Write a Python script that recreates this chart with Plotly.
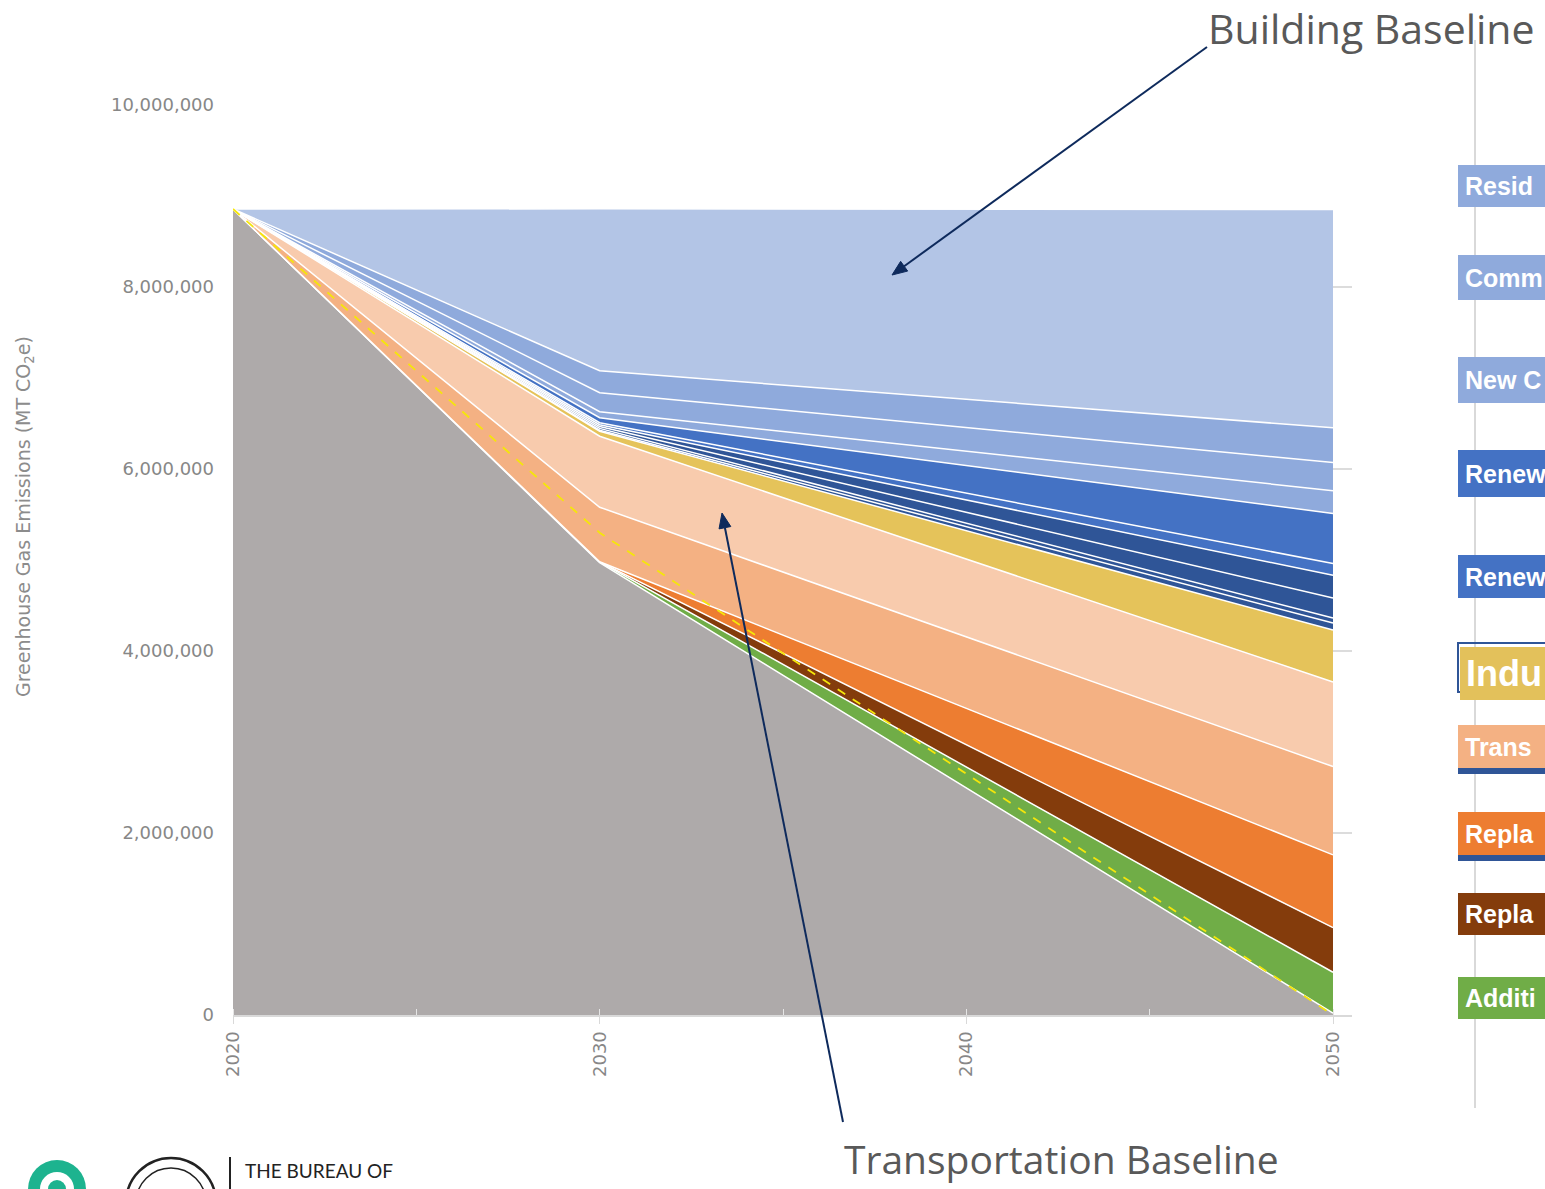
import math
import plotly.graph_objects as go

# ---------------- data ----------------
years = [2020, 2030, 2050]

remaining      = [8.857e6, 4.97e6, 0.02e6]   # grey, remaining emissions
additional     = [0, 0.01e6, 0.45e6]         # green
replace_b      = [0, 0.0, 0.49e6]            # brown
replace_a      = [0, 0.0, 0.80e6]            # orange
transport_a    = [0, 0.60e6, 0.97e6]         # peach
transport_b    = [0, 0.78e6, 0.93e6]         # light peach
industrial     = [0, 0.055e6, 0.57e6]        # yellow
renew_d1       = [0, 0.011e6, 0.077e6]       # dark blue
renew_d2       = [0, 0.02e6, 0.055e6]
renew_d3       = [0, 0.02e6, 0.22e6]
renew_d4       = [0, 0.02e6, 0.25e6]
renew_b1       = [0, 0.022e6, 0.13e6]        # blue
renew_b2       = [0, 0.055e6, 0.55e6]
newcon         = [0, 0.066e6, 0.25e6]        # mid light blue
commercial     = [0, 0.21e6, 0.31e6]
residential    = [0, 0.24e6, 0.38e6]
building_base  = [0, 1.78e6, 2.40e6]         # light blue

target_path    = [8.857e6, 5.30e6, 0.0]      # yellow dashed line

y_ticks = [0, 2e6, 4e6, 6e6, 8e6, 10e6]
y_tick_labels = ["0", "2,000,000", "4,000,000", "6,000,000", "8,000,000", "10,000,000"]
x_ticks = [2020, 2030, 2040, 2050]
x_tick_labels = ["2020", "2030", "2040", "2050"]

# legend labels as visible (cut off at the picture edge in the reference)
legend_labels = ["Resid", "Comm", "New C", "Renew", "Renew", "Indu",
                 "Trans", "Repla", "Repla", "Additi"]

layers = [
    ("Remaining", remaining, "#AEAAAA"),
    ("Additional", additional, "#70AD47"),
    ("Replace B", replace_b, "#843C0C"),
    ("Replace A", replace_a, "#ED7D31"),
    ("Transportation A", transport_a, "#F4B183"),
    ("Transportation B", transport_b, "#F8CBAD"),
    ("Industrial", industrial, "#E5C35A"),
    ("Renewable D1", renew_d1, "#2F5597"),
    ("Renewable D2", renew_d2, "#2F5597"),
    ("Renewable D3", renew_d3, "#2F5597"),
    ("Renewable D4", renew_d4, "#2F5597"),
    ("Renewable B1", renew_b1, "#4472C4"),
    ("Renewable B2", renew_b2, "#4472C4"),
    ("New Construction", newcon, "#8FAADC"),
    ("Commercial", commercial, "#8FAADC"),
    ("Residential", residential, "#8FAADC"),
    ("Building Baseline", building_base, "#B3C5E6"),
]

W, H = 1545, 1189
L, R, T, B = 233, 1352, 105, 1015


def px(x):
    return (x - L) / (R - L)


def py(y):
    return (B - y) / (B - T)


fig = go.Figure()
for name, vals, col in layers:
    fig.add_trace(go.Scatter(
        x=years, y=vals, name=name, stackgroup="one", mode="lines",
        line=dict(color="white", width=1.5), fillcolor=col,
        showlegend=False, hoverinfo="skip"))

fig.add_trace(go.Scatter(
    x=years, y=target_path, mode="lines", showlegend=False,
    line=dict(color="#F5E60A", width=1.8, dash="dash"), hoverinfo="skip"))

TICKFONT = dict(family="DejaVu Sans", size=18, color="#878787")

fig.update_layout(
    width=W, height=H,
    margin=dict(l=L, r=W - R, t=T, b=H - B, pad=0),
    paper_bgcolor="white", plot_bgcolor="white",
    xaxis=dict(range=[2020, 2020 + (R - L) / (1100 / 30)], tickvals=x_ticks,
               ticktext=x_tick_labels, tickangle=-90, tickfont=TICKFONT,
               showgrid=False, zeroline=False, showline=True,
               linecolor="#D9D9D9", linewidth=2, ticks="outside", ticklen=7,
               tickcolor="#D9D9D9",
               minor=dict(dtick=5, tick0=2020, ticks="inside", ticklen=6,
                          tickcolor="#E6E6E6", showgrid=False)),
    yaxis=dict(range=[0, 10e6], tickvals=y_ticks, ticktext=y_tick_labels,
               tickfont=TICKFONT, showgrid=True, gridcolor="#DCDCDC",
               gridwidth=1.5, zeroline=False, showline=False, ticks="",
               ticklabelstandoff=18),
)

annotations = []
shapes = []

# y-axis title
annotations.append(dict(
    x=px(24), y=py(517), xref="paper", yref="paper", showarrow=False,
    text="Greenhouse Gas Emissions (MT CO<sub>2</sub>e)", textangle=-90,
    font=dict(family="DejaVu Sans", size=19, color="#8C8C8C"),
    xanchor="center", yanchor="middle"))

# callout texts
annotations.append(dict(
    x=px(1206), y=py(28), xref="paper", yref="paper", showarrow=False,
    text="Building Baseline", xanchor="left", yanchor="middle",
    font=dict(family="Open Sans", size=41, color="#595959")))
annotations.append(dict(
    x=px(842), y=py(1158), xref="paper", yref="paper", showarrow=False,
    text="Transportation Baseline", xanchor="left", yanchor="middle",
    font=dict(family="Open Sans", size=39, color="#595959")))

# callout arrows drawn as shapes (line + triangular head), pixel positions
ARROW_COL = "#0E2A5C"
for (hx, hy), (tx_, ty_) in [((892, 275), (1207, 47)), ((722, 513), (843, 1122))]:
    dx, dy = hx - tx_, hy - ty_
    n = math.hypot(dx, dy)
    ux, uy = dx / n, dy / n
    hl, hw = 15, 6
    bx, by = hx - ux * hl, hy - uy * hl
    shapes.append(dict(type="line", xref="paper", yref="paper",
                       x0=px(tx_), y0=py(ty_), x1=px(bx), y1=py(by),
                       line=dict(color=ARROW_COL, width=2), layer="above"))
    p1 = (bx - uy * hw, by + ux * hw)
    p2 = (bx + uy * hw, by - ux * hw)
    path = "M {} {} L {} {} L {} {} Z".format(
        px(hx), py(hy), px(p1[0]), py(p1[1]), px(p2[0]), py(p2[1]))
    shapes.append(dict(type="path", xref="paper", yref="paper", path=path,
                       fillcolor=ARROW_COL, line=dict(color=ARROW_COL, width=1),
                       layer="above"))

# right divider line
shapes.append(dict(type="line", xref="paper", yref="paper",
                   x0=px(1475), x1=px(1475), y0=py(40), y1=py(1108),
                   line=dict(color="#D9D9D9", width=2), layer="above"))

# legend boxes (cut off by the page edge)
boxes = [
    (165, 207, "#8FAADC", 25, None),
    (255, 300, "#8FAADC", 25, None),
    (357, 403, "#8FAADC", 25, None),
    (450, 497, "#4472C4", 25, None),
    (555, 598, "#4472C4", 25, None),
    (647, 700, "#E3C15B", 36, "outline"),
    (725, 768, "#F4B183", 25, "under"),
    (812, 855, "#ED7D31", 25, "under"),
    (893, 935, "#843C0C", 25, None),
    (977, 1019, "#70AD47", 25, None),
]
for (y0, y1, col, fs, extra), label in zip(boxes, legend_labels):
    if extra == "outline":
        shapes.append(dict(type="rect", xref="paper", yref="paper",
                           x0=px(1458), x1=px(1600), y0=py(692), y1=py(643),
                           line=dict(color="#2F5597", width=2),
                           fillcolor="rgba(0,0,0,0)", layer="above"))
        shapes.append(dict(type="rect", xref="paper", yref="paper",
                           x0=px(1460), x1=px(1600), y0=py(y1), y1=py(y0),
                           line=dict(width=0), fillcolor=col, layer="above"))
        tx = 1464
    else:
        shapes.append(dict(type="rect", xref="paper", yref="paper",
                           x0=px(1458), x1=px(1600), y0=py(y1), y1=py(y0),
                           line=dict(width=0), fillcolor=col, layer="above"))
        tx = 1463
    if extra == "under":
        shapes.append(dict(type="rect", xref="paper", yref="paper",
                           x0=px(1458), x1=px(1600), y0=py(y1 + 6), y1=py(y1),
                           line=dict(width=0), fillcolor="#2F5597", layer="above"))
    annotations.append(dict(
        x=px(tx), y=py((y0 + y1) / 2), xref="paper", yref="paper",
        showarrow=False, text="<b>" + label + "</b>", xanchor="left",
        yanchor="middle",
        font=dict(family="Liberation Sans, Arial", size=fs, color="white")))

# footer logos (partially visible)
shapes.append(dict(type="circle", xref="paper", yref="paper",
                   x0=px(28), x1=px(86), y0=py(1160), y1=py(1218),
                   line=dict(width=0), fillcolor="#1DB38F", layer="above"))
shapes.append(dict(type="circle", xref="paper", yref="paper",
                   x0=px(40), x1=px(74), y0=py(1172), y1=py(1206),
                   line=dict(width=0), fillcolor="white", layer="above"))
shapes.append(dict(type="circle", xref="paper", yref="paper",
                   x0=px(48), x1=px(66), y0=py(1180), y1=py(1198),
                   line=dict(width=0), fillcolor="#1DB38F", layer="above"))
shapes.append(dict(type="circle", xref="paper", yref="paper",
                   x0=px(126), x1=px(216), y0=py(1158), y1=py(1248),
                   line=dict(color="#222222", width=2.5), fillcolor="white",
                   layer="above"))
shapes.append(dict(type="circle", xref="paper", yref="paper",
                   x0=px(136), x1=px(206), y0=py(1168), y1=py(1238),
                   line=dict(color="#222222", width=1.5), fillcolor="white",
                   layer="above"))
shapes.append(dict(type="line", xref="paper", yref="paper",
                   x0=px(230), x1=px(230), y0=py(1157), y1=py(1189),
                   line=dict(color="#222222", width=2), layer="above"))
annotations.append(dict(
    x=px(243), y=py(1170), xref="paper", yref="paper", showarrow=False,
    text="THE BUREAU OF", xanchor="left", yanchor="middle",
    font=dict(family="Lato", size=19, color="#222222")))

fig.update_layout(annotations=annotations, shapes=shapes)

fig.write_html("out.html", config={"displayModeBar": False},
               post_script="document.body.style.margin='0';document.body.style.overflow='hidden';")
